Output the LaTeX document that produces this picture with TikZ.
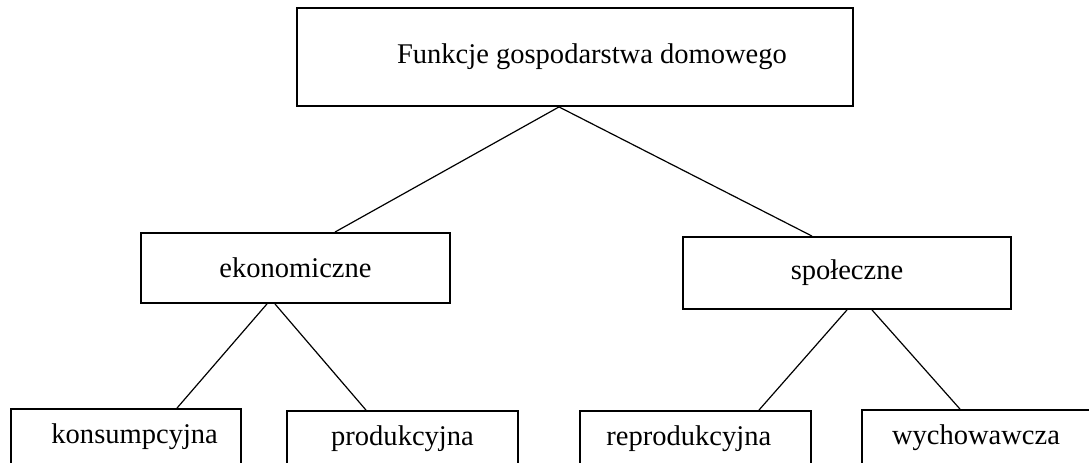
\documentclass[tikz,border=0pt]{standalone}
\usepackage{fontspec}
\setmainfont{Liberation Serif}
\usepackage{tikz}

\tikzset{
  skrzynka/.style={draw=black, line width=1.4pt, fill=white, inner sep=0pt},
  linia/.style={draw=black, line width=0.9pt}
}

\begin{document}
\begin{tikzpicture}[x=0.75pt, y=-0.75pt, font=\fontsize{21.4}{26}\selectfont]
        \useasboundingbox (0,0) rectangle (1089,462);
        \clip (0,0) rectangle (1089,462);

        % Funkcje
        \node[skrzynka, minimum width=417pt, minimum height=73.5pt] (fun) at (575,57) {\hspace*{25.5pt}Funkcje gospodarstwa domowego};

        % drugi poziom
        \node[skrzynka, minimum width=231.75pt, minimum height=52.5pt] (ekon) at (295.5,268) {ekonomiczne};
        \node[skrzynka, minimum width=246pt, minimum height=54pt] (spol) at (847,273) {społeczne};

        % trzeci poziom
        \node[skrzynka, minimum width=172.5pt, minimum height=42pt] (kons) at (126,437) {\hspace*{13pt}konsumpcyjna};
        \node[skrzynka, minimum width=173.25pt, minimum height=42pt] (prod) at (402.5,439) {produkcyjna};
        \node[skrzynka, minimum width=173.25pt, minimum height=42pt] (repr) at (695.5,439) {reprodukcyjna\hspace*{10pt}};
        \node[skrzynka, minimum width=200pt, minimum height=42pt] (wych) at (995,438) {wychowawcza\hspace*{28.5pt}};

        % linie
        \draw[linia] ([xshift=-12pt]fun.south) -- ([xshift=29.6pt]ekon.north);
        \draw[linia] ([xshift=-12pt]fun.south) -- ([xshift=-26.25pt]spol.north);
        \draw[linia] ([xshift=-21.4pt]ekon.south) -- ([xshift=38.25pt]kons.north);
        \draw[linia] ([xshift=-15.4pt]ekon.south) -- ([xshift=-27.4pt]prod.north);
        \draw[linia] (spol.south) -- ([xshift=47.6pt]repr.north);
        \draw[linia] ([xshift=18.75pt]spol.south) -- ([xshift=-26.25pt]wych.north);

    \end{tikzpicture}
\end{document}
